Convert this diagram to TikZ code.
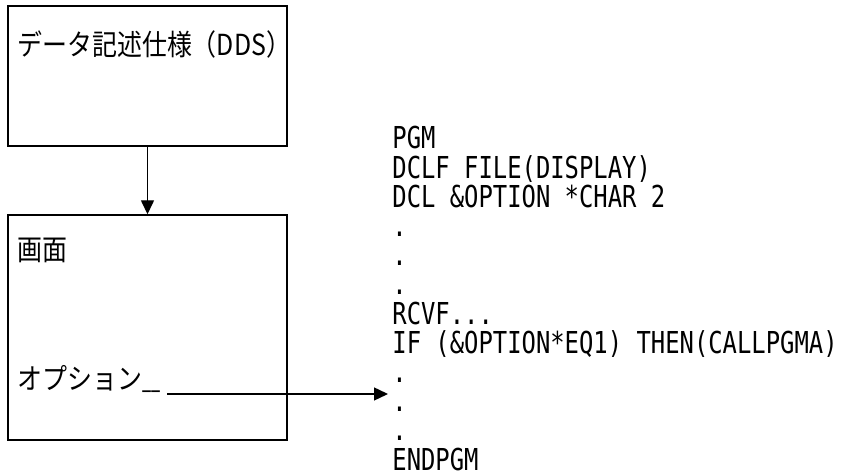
\documentclass[tikz,border=0pt]{standalone}
\usepackage{fontspec}
\usepackage{graphicx}
\usetikzlibrary{arrows.meta}
\newfontfamily\jpfont[FakeStretch=0.86]{Noto Sans CJK JP}
\newfontfamily\codefont[FakeStretch=0.79]{DejaVu Sans Mono}
\newcommand{\threedots}{...}

\begin{document}
\begin{tikzpicture}[x=0.5pt,y=-0.5pt,
  box/.style={draw, line width=0.7pt, minimum width=139.5pt, inner sep=0pt},
  jp/.style={anchor=base west, inner sep=0pt, font=\jpfont\fontsize{14.5pt}{16pt}\selectfont},
  code/.style={anchor=base west, inner sep=0pt, font=\codefont\fontsize{15.1pt}{17pt}\selectfont},
  >={Triangle[length=7pt,width=6.5pt]}]
\useasboundingbox (0,0) rectangle (843,476);
% boxes
\node [box, minimum height=70pt] (dds) at (147.5,76) {};
\node [box, minimum height=112.5pt] (screen) at (147.5,327.5) {};
\draw [line width=0.7pt,->] (dds) -- (screen);
% labels
\node [jp] (ddslabel) at (17,56) {データ記述仕様（DDS）};
\node [jp] (screenlabel) at (17,261) {画面};
\node [jp] (optlabel) at (17,390) {オプション\raisebox{0.8pt}{\scalebox{0.65}[1]{\_\_}}};
% program
\foreach \ln [count=\i from 0] in {PGM, {DCLF FILE(DISPLAY)}, {DCL \&OPTION *CHAR 2}, ., ., ., RCVF\threedots, {IF (\&OPTION*EQ1) THEN(CALLPGMA)}, ., ., ., ENDPGM}
  \node [code] (line\i) at (392,149+29.2*\i) {\ln};
\coordinate (optout) at (167,394);
\coordinate (optin) at (388,394);
\draw [line width=0.7pt,->] (optout) -- (optin);
\end{tikzpicture}
\end{document}
